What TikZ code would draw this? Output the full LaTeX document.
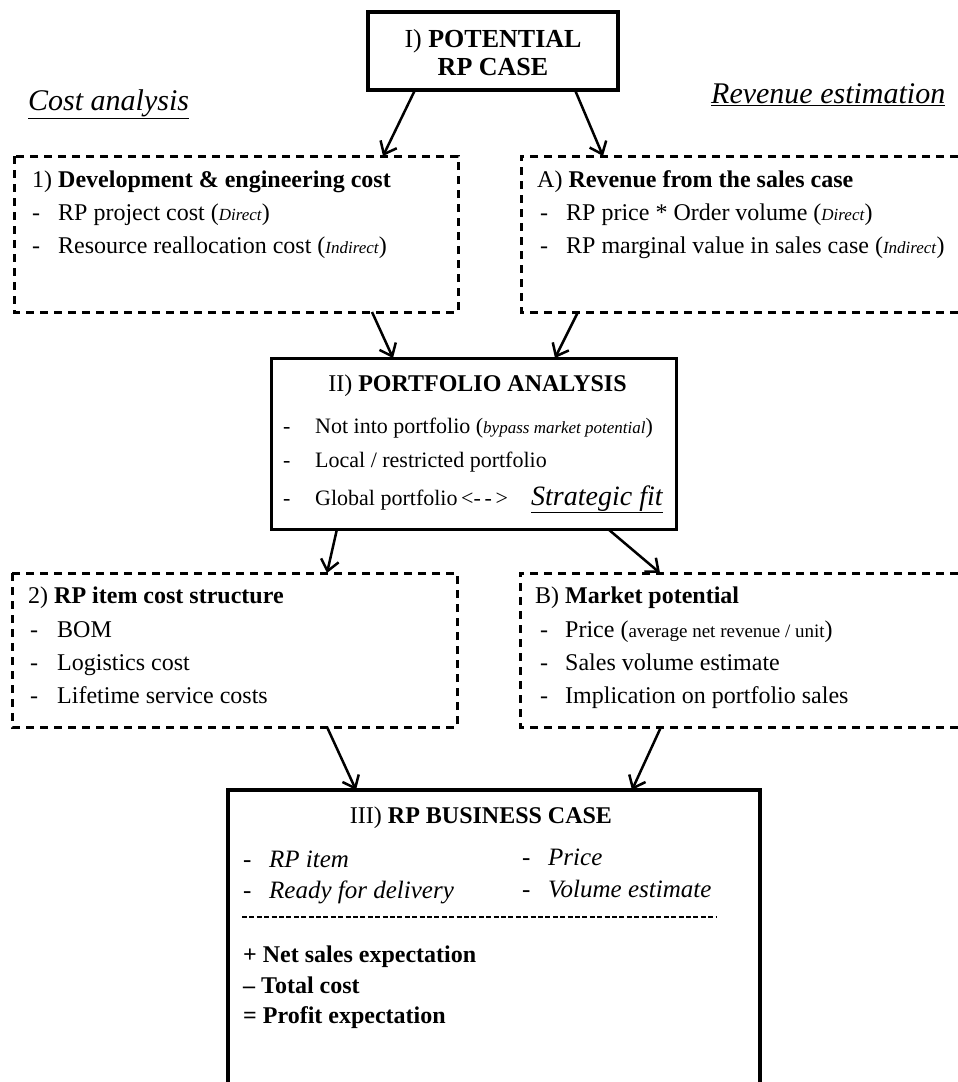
\documentclass[tikz,border=0pt]{standalone}
\usepackage{fontspec}
\setmainfont{Liberation Serif}
\usetikzlibrary{arrows.meta,positioning}
\newcommand{\fsz}[1]{\fontsize{#1}{#1}\selectfont}
\newcommand{\itm}[2][26pt]{\makebox[#1][l]{-}#2}

\begin{document}
\begin{tikzpicture}[x=1pt,y=-1pt,
        boxline/.style={line width=3pt},
        dashline/.style={line width=3pt, dash pattern=on 8pt off 6pt},
        frame/.style={inner sep=0pt, outer sep=0pt},
        txt/.style={anchor=base west, inner sep=0pt, font=\fsz{24}},
        arr/.style={-{Straight Barb[length=11pt,width=18pt]}, line width=2.5pt}]
        \useasboundingbox[fill=white] (0,0) rectangle (958,1082);

        % Potential case
        \node[frame, draw, line width=4pt, minimum width=250pt, minimum height=78pt] (pot) at (493,51) {};
        \node[align=center, inner sep=0pt, font=\fsz{26}] (pottitle) at (493,53) {I) \textbf{POTENTIAL}\\[2pt] \textbf{RP CASE}};

        % Column headings
        \node[txt, font=\fsz{30}] (costhead) at (28,110) {\underline{\textit{Cost analysis}}};
        \node[txt, font=\fsz{30}] (revhead) at (711,103) {\underline{\textit{Revenue estimation}}};

        % Development & engineering cost
        \node[frame, minimum width=444pt, minimum height=156pt] (dev) at (236,234) {};
        \draw[dashline] (dev.north west) rectangle (dev.south east);
        \node[txt] (devtitle) at (32,187) {1) \textbf{Development \& engineering cost}};
        \node[txt] (dev1) at (32,220) {\itm{RP project cost ({\fsz{17}\textit{Direct}})}};
        \node[txt] (dev2) at (32,253) {\itm{Resource reallocation cost ({\fsz{17}\textit{Indirect}})}};

        % Revenue from the sales case (open to the right)
        \node[frame, minimum width=437pt, minimum height=156pt] (rev) at (739.5,234) {};
        \draw[dashline] (rev.north east) -- (rev.north west) -- (rev.south west) -- (rev.south east);
        \node[txt] (revtitle) at (537,187) {A) \textbf{Revenue from the sales case}};
        \node[txt] (rev1) at (540,220) {\itm{RP price * Order volume ({\fsz{17}\textit{Direct}})}};
        \node[txt] (rev2) at (540,253) {\itm{RP marginal value in sales case ({\fsz{17}\textit{Indirect}})}};

        % Portfolio analysis
        \node[frame, draw, boxline, minimum width=405pt, minimum height=171pt] (port) at (473.5,443.5) {};
        \node[txt, anchor=base] (porttitle) at (477.5,391) {II) \textbf{PORTFOLIO ANALYSIS}};
        \node[txt, font=\fsz{22}] (port1) at (283,433) {\itm[32pt]{Not into portfolio ({\fsz{17}\textit{bypass market potential}})}};
        \node[txt, font=\fsz{22}] (port2) at (283,467) {\itm[32pt]{Local / restricted portfolio}};
        \node[txt, font=\fsz{22}] (port3) at (283,505) {\itm[32pt]{Global portfolio\,<-\,-\,>}};
        \node[txt, font=\fsz{28}] (strat) at (531,505) {\underline{\textit{Strategic fit}}};

        % RP item cost structure
        \node[frame, minimum width=445pt, minimum height=154pt] (item) at (234.5,650) {};
        \draw[dashline] (item.north west) rectangle (item.south east);
        \node[txt] (itemtitle) at (28,603) {2) \textbf{RP item cost structure}};
        \node[txt] (item1) at (30,637) {\itm[27pt]{BOM}};
        \node[txt] (item2) at (30,670) {\itm[27pt]{Logistics cost}};
        \node[txt] (item3) at (30,703) {\itm[27pt]{Lifetime service costs}};

        % Market potential (open to the right)
        \node[frame, minimum width=438pt, minimum height=154pt] (mkt) at (739,650) {};
        \draw[dashline] (mkt.north east) -- (mkt.north west) -- (mkt.south west) -- (mkt.south east);
        \node[txt] (mkttitle) at (535,603) {B) \textbf{Market potential}};
        \node[txt] (mkt1) at (540,637) {\itm[25pt]{Price ({\fsz{19}average net revenue / unit})}};
        \node[txt] (mkt2) at (540,670) {\itm[25pt]{Sales volume estimate}};
        \node[txt] (mkt3) at (540,703) {\itm[25pt]{Implication on portfolio sales}};

        % RP business case (open at the bottom)
        \node[frame, minimum width=532pt, minimum height=292pt] (biz) at (494,936) {};
        \draw[line width=4pt] (biz.south west) -- (biz.north west) -- (biz.north east) -- (biz.south east);
        \node[txt, anchor=base] (biztitle) at (481,823) {III) \textbf{RP BUSINESS CASE}};
        \node[txt, font=\fsz{25}] (biz1) at (243,867) {\itm{\textit{RP item}}};
        \node[txt, font=\fsz{25}] (biz2) at (243,898) {\itm{\textit{Ready for delivery}}};
        \node[txt, font=\fsz{25}] (biz3) at (522,865) {\itm{\textit{Price}}};
        \node[txt, font=\fsz{25}] (biz4) at (522,897) {\itm{\textit{Volume estimate}}};
        \coordinate (sepL) at (242,917);
        \coordinate (sepR) at (717,917);
        \draw[line width=1.5pt, dash pattern=on 5pt off 2.4pt] (sepL) -- (sepR);
        \node[txt, font=\fsz{24}\bfseries] (sum1) at (243,962) {+ Net sales expectation};
        \node[txt, font=\fsz{24}\bfseries] (sum2) at (243,993) {– Total cost};
        \node[txt, font=\fsz{24}\bfseries] (sum3) at (243,1023) {= Profit expectation};

        % Arrows
        \draw[arr] ([xshift=-78pt]pot.south) -- ([xshift=147pt]dev.north);
        \draw[arr] ([xshift=82pt]pot.south) -- ([xshift=-136.5pt]rev.north);
        \draw[arr] ([xshift=136pt]dev.south) -- ([xshift=-80.5pt]port.north);
        \draw[arr] ([xshift=-161.5pt]rev.south) -- ([xshift=81.5pt]port.north);
        \draw[arr] ([xshift=-136.5pt]port.south) -- ([xshift=92.5pt]item.north);
        \draw[arr] ([xshift=134.5pt]port.south) -- ([xshift=-79pt]mkt.north);
        \draw[arr] ([xshift=92.5pt]item.south) -- ([xshift=-138pt]biz.north);
        \draw[arr] ([xshift=-78pt]mkt.south) -- ([xshift=138pt]biz.north);
    \end{tikzpicture}
\end{document}
